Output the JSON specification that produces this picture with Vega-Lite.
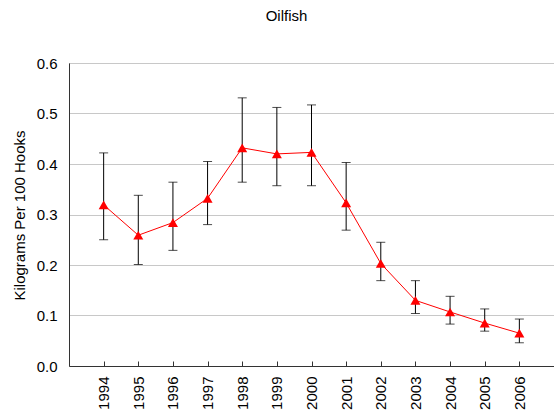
{
  "$schema": "https://vega.github.io/schema/vega-lite/v6.json",
  "width": 485,
  "height": 303,
  "autosize": {"type": "none"},
  "padding": {"left": 69, "top": 63, "right": 0, "bottom": 49},
  "background": "white",
  "config": {
    "font": "Liberation Sans",
    "view": {"stroke": "#8c8c8c", "strokeWidth": 1}
  },
  "title": {
    "text": "Oilfish",
    "fontSize": 15,
    "fontWeight": "normal",
    "color": "#000000",
    "font": "Liberation Sans",
    "anchor": "middle",
    "dx": -25,
    "offset": 32
  },
  "data": {
    "values": [
      {"year": 1994, "cpue": 0.319, "lo": 0.250, "hi": 0.422},
      {"year": 1995, "cpue": 0.259, "lo": 0.201, "hi": 0.338},
      {"year": 1996, "cpue": 0.284, "lo": 0.229, "hi": 0.364},
      {"year": 1997, "cpue": 0.332, "lo": 0.280, "hi": 0.405},
      {"year": 1998, "cpue": 0.432, "lo": 0.364, "hi": 0.531},
      {"year": 1999, "cpue": 0.420, "lo": 0.357, "hi": 0.512},
      {"year": 2000, "cpue": 0.423, "lo": 0.357, "hi": 0.517},
      {"year": 2001, "cpue": 0.323, "lo": 0.269, "hi": 0.403},
      {"year": 2002, "cpue": 0.203, "lo": 0.169, "hi": 0.245},
      {"year": 2003, "cpue": 0.130, "lo": 0.104, "hi": 0.169},
      {"year": 2004, "cpue": 0.107, "lo": 0.083, "hi": 0.138},
      {"year": 2005, "cpue": 0.085, "lo": 0.069, "hi": 0.113},
      {"year": 2006, "cpue": 0.065, "lo": 0.046, "hi": 0.093}
    ]
  },
  "encoding": {
    "x": {
      "field": "year",
      "type": "quantitative",
      "scale": {"domain": [1993, 2007], "nice": false, "zero": false},
      "axis": {
        "title": null,
        "values": [1994, 1995, 1996, 1997, 1998, 1999, 2000, 2001, 2002, 2003, 2004, 2005, 2006],
        "format": "d",
        "grid": false,
        "labelAngle": 270,
        "labelAlign": "right",
        "labelBaseline": "middle",
        "labelFontSize": 15,
        "labelColor": "#000000",
        "labelPadding": 15,
        "tickSize": -5,
        "tickColor": "#333333",
        "domainColor": "#333333",
        "labelFlush": false,
        "labelOverlap": false
      }
    }
  },
  "layer": [
    {
      "mark": {"type": "rule", "color": "#000000", "strokeWidth": 1},
      "encoding": {
        "y": {
          "field": "lo",
          "type": "quantitative",
          "scale": {"domain": [0, 0.6], "nice": false},
          "axis": {
            "title": "Kilograms Per 100 Hooks",
            "values": [0, 0.1, 0.2, 0.3, 0.4, 0.5, 0.6],
            "format": ".1f",
            "grid": true,
            "gridColor": "#c8c8c8",
            "ticks": false,
            "tickSize": 0,
            "labelPadding": 12,
            "labelFontSize": 15,
            "labelColor": "#000000",
            "domainColor": "#333333",
            "titleFontSize": 15,
            "titleFontWeight": "normal",
            "titleColor": "#000000",
            "titleX": -45,
            "titleY": 152,
            "titleAngle": 270,
            "titleAlign": "center",
            "titleBaseline": "alphabetic",
            "labelFlush": false
          }
        },
        "y2": {"field": "hi"}
      }
    },
    {
      "mark": {"type": "tick", "orient": "horizontal", "color": "#000000", "size": 9, "thickness": 1},
      "encoding": {"y": {"field": "lo", "type": "quantitative"}}
    },
    {
      "mark": {"type": "tick", "orient": "horizontal", "color": "#000000", "size": 9, "thickness": 1},
      "encoding": {"y": {"field": "hi", "type": "quantitative"}}
    },
    {
      "mark": {"type": "line", "color": "#ff0000", "strokeWidth": 1},
      "encoding": {"y": {"field": "cpue", "type": "quantitative"}}
    },
    {
      "mark": {"type": "point", "shape": "triangle-up", "filled": true, "color": "#ff0000", "size": 100, "opacity": 1},
      "encoding": {"y": {"field": "cpue", "type": "quantitative"}}
    }
  ]
}
